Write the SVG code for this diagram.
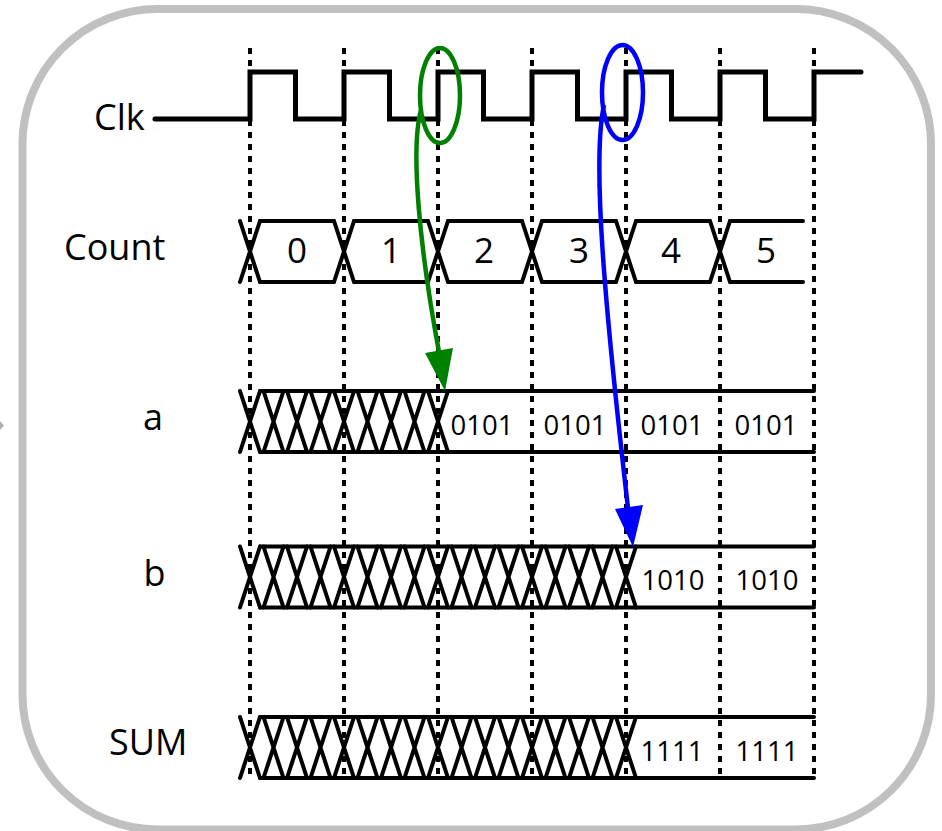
<svg xmlns="http://www.w3.org/2000/svg" xmlns:xlink="http://www.w3.org/1999/xlink" width="942" height="831" viewBox="0 0 942 831">
<style>
.lbl{font-family:"Open Sans","Liberation Sans",sans-serif;font-size:36px;fill:#000}
.val{font-family:"Open Sans","Liberation Sans",sans-serif;font-size:27.5px;fill:#000;text-anchor:middle}
.cnt{font-family:"Open Sans","Liberation Sans",sans-serif;font-size:35px;fill:#000;text-anchor:middle}
.bus{fill:none;stroke:#000;stroke-width:4;stroke-linecap:round}
.grid{fill:none;stroke:#000;stroke-width:4;stroke-dasharray:6 6}
.clk{fill:none;stroke:#000;stroke-width:5;stroke-linecap:round}
</style>
<defs>
<path id="x" d="M-10,-30.5L10,30.5M-10,30.5L10,-30.5" class="bus"/>
</defs>
<rect x="22.5" y="9" width="908.5" height="820.5" rx="135" ry="135" fill="#fff" stroke="#c0c0c0" stroke-width="8"/>
<polygon points="0,421 4,425.5 0,430" fill="#b0b0b0"/>
<g id="grid">
<path class="grid" d="M250,48V778M344,48V778M438,48V778M532,48V778M626,48V778M720,48V778M814,48V778"/>
</g>
<g id="clk">
<text class="lbl" x="94" y="130">Clk</text>
<path class="clk" d="M155,119H250V72H295.5V119H344V72H389.5V119H438V72H483.5V119H532V72H577.5V119H626V72H671.5V119H720V72H765.5V119H814V72H861"/>
</g>
<g id="count">
<text class="lbl" x="64" y="260">Count</text>
<path class="bus" d="M260,221H334M354,221H428M448,221H522M542,221H616M636,221H710M730,221H803M260,282H334M354,282H428M448,282H522M542,282H616M636,282H710M730,282H803"/>
<use xlink:href="#x" x="250" y="251.5"/><use xlink:href="#x" x="344" y="251.5"/><use xlink:href="#x" x="438" y="251.5"/><use xlink:href="#x" x="532" y="251.5"/><use xlink:href="#x" x="626" y="251.5"/><use xlink:href="#x" x="720" y="251.5"/>
<text class="cnt" x="297" y="263">0</text>
<text class="cnt" x="391" y="263">1</text>
<text class="cnt" x="484" y="263">2</text>
<text class="cnt" x="579" y="263">3</text>
<text class="cnt" x="671" y="263">4</text>
<text class="cnt" x="766" y="263">5</text>
</g>
<g id="a">
<text class="lbl" x="153" y="430" text-anchor="middle">a</text>
<path class="bus" d="M260,391H814M260,452H814"/>
<use xlink:href="#x" x="250" y="421.5"/><use xlink:href="#x" x="273.5" y="421.5"/><use xlink:href="#x" x="297" y="421.5"/><use xlink:href="#x" x="320.5" y="421.5"/><use xlink:href="#x" x="344" y="421.5"/><use xlink:href="#x" x="367.5" y="421.5"/><use xlink:href="#x" x="391" y="421.5"/><use xlink:href="#x" x="414.5" y="421.5"/><use xlink:href="#x" x="438" y="421.5"/>
<text class="val" x="482" y="435">0101</text>
<text class="val" x="575" y="435">0101</text>
<text class="val" x="672" y="435">0101</text>
<text class="val" x="766" y="435">0101</text>
</g>
<g id="b">
<text class="lbl" x="154.5" y="586" text-anchor="middle">b</text>
<path class="bus" d="M260,546.5H814M260,607.5H814"/>
<g transform="translate(0,577)">
<use xlink:href="#x" x="250"/><use xlink:href="#x" x="273.5"/><use xlink:href="#x" x="297"/><use xlink:href="#x" x="320.5"/><use xlink:href="#x" x="344"/><use xlink:href="#x" x="367.5"/><use xlink:href="#x" x="391"/><use xlink:href="#x" x="414.5"/><use xlink:href="#x" x="438"/><use xlink:href="#x" x="461.5"/><use xlink:href="#x" x="485"/><use xlink:href="#x" x="508.5"/><use xlink:href="#x" x="532"/><use xlink:href="#x" x="555.5"/><use xlink:href="#x" x="579"/><use xlink:href="#x" x="602.5"/><use xlink:href="#x" x="626"/>
</g>
<text class="val" x="673" y="590">1010</text>
<text class="val" x="767" y="590">1010</text>
</g>
<g id="sum">
<text class="lbl" x="109" y="755">SUM</text>
<path class="bus" d="M260,717H814M260,778H814"/>
<g transform="translate(0,747.5)">
<use xlink:href="#x" x="250"/><use xlink:href="#x" x="273.5"/><use xlink:href="#x" x="297"/><use xlink:href="#x" x="320.5"/><use xlink:href="#x" x="344"/><use xlink:href="#x" x="367.5"/><use xlink:href="#x" x="391"/><use xlink:href="#x" x="414.5"/><use xlink:href="#x" x="438"/><use xlink:href="#x" x="461.5"/><use xlink:href="#x" x="485"/><use xlink:href="#x" x="508.5"/><use xlink:href="#x" x="532"/><use xlink:href="#x" x="555.5"/><use xlink:href="#x" x="579"/><use xlink:href="#x" x="602.5"/><use xlink:href="#x" x="626"/>
</g>
<text class="val" x="672" y="761">1111</text>
<text class="val" x="767" y="761">1111</text>
</g>
<g id="connectors">
<ellipse cx="440" cy="95.5" rx="20" ry="47.5" fill="none" stroke="#008000" stroke-width="4.5"/>
<path d="M421,110C410,150 420,250 439,352" fill="none" stroke="#008000" stroke-width="4.5"/>
<polygon points="445,391 425,353 453,348" fill="#008000"/>
<ellipse cx="622.5" cy="92.5" rx="20.5" ry="47.5" fill="none" stroke="#0000ff" stroke-width="4.5"/>
<path d="M604,105C592,160 604,300 628,508" fill="none" stroke="#0000ff" stroke-width="4.5"/>
<polygon points="633,547 615,509 643,505" fill="#0000ff"/>
</g>
</svg>
